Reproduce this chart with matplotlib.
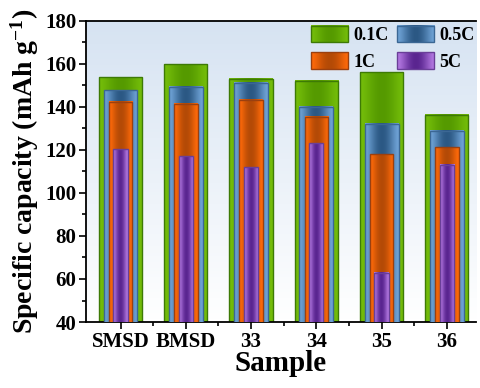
import numpy as np
import matplotlib.pyplot as plt
from matplotlib.colors import to_rgb
from matplotlib.patches import Rectangle
from matplotlib.legend_handler import HandlerBase
from matplotlib.image import BboxImage
from matplotlib.transforms import Bbox, TransformedBbox
from matplotlib.ticker import MultipleLocator

# capacity data (mAh g-1)
samples = ['SMSD', 'BMSD', '33', '34', '35', '36']
rates = ['0.1C', '0.5C', '1C', '5C']
cap_01c = [153.7, 159.8, 153.0, 152.0, 156.0, 136.2]
cap_05c = [147.7, 149.3, 151.0, 140.0, 132.0, 128.8]
cap_1c = [142.4, 141.3, 143.2, 135.2, 118.0, 121.2]
cap_5c = [120.3, 117.0, 111.8, 123.0, 63.0, 113.0]

# width, edge colour of gradient, centre colour of gradient, outline colour
styles = [
    (0.66, '#74bd0a', '#559a00', '#3d7a05'),
    (0.52, '#6fa3d6', '#2b5884', '#3b6794'),
    (0.36, '#ff6a0a', '#b44a06', '#9a4010'),
    (0.22, '#b479e2', '#5a2590', '#6a3f98'),
]

plt.rcParams['font.family'] = 'Liberation Serif'
plt.rcParams['font.weight'] = 'bold'
plt.rcParams['mathtext.fontset'] = 'custom'
plt.rcParams['mathtext.rm'] = 'Liberation Serif:bold'
plt.rcParams['mathtext.default'] = 'rm'


def gradient(edge, centre, n=64):
    t = np.linspace(0, 1, n)
    w = np.sin(np.pi * t) ** 1.5
    e = np.array(to_rgb(edge))
    c = np.array(to_rgb(centre))
    rgb = e[None, :] * (1 - w[:, None]) + c[None, :] * w[:, None]
    return rgb[None, :, :]


class HandlerGradient(HandlerBase):
    def __init__(self, img, ec):
        super().__init__()
        self.img = img
        self.ec = ec

    def create_artists(self, legend, orig_handle, xdescent, ydescent,
                       width, height, fontsize, trans):
        bb = Bbox.from_bounds(-xdescent, -ydescent, width, height)
        im = BboxImage(TransformedBbox(bb, trans), interpolation='bilinear')
        im.set_data(self.img)
        rect = Rectangle((-xdescent, -ydescent), width, height,
                         facecolor='none', edgecolor=self.ec, lw=1.0,
                         transform=trans)
        return [im, rect]


fig = plt.figure(figsize=(4.8, 3.88), dpi=100)
ax = fig.add_axes([0.179, 0.170, 0.813, 0.777])

# background gradient
bg = np.linspace(0, 1, 100)[:, None]
top = np.array(to_rgb('#d6e3f2'))
bot = np.array([1.0, 1.0, 1.0])
bg_img = (top[None, None, :] * (1 - bg[:, :, None]) + bot[None, None, :] * bg[:, :, None])
ax.imshow(bg_img, extent=[0, 1, 0, 1], transform=ax.transAxes,
          aspect='auto', zorder=0)

x = np.arange(len(samples))
series = [cap_01c, cap_05c, cap_1c, cap_5c]
handles = []
hmap = {}
for i, (vals, (w, ce, cc, ec)) in enumerate(zip(series, styles)):
    img = gradient(ce, cc)
    bars = ax.bar(x, vals, width=w, facecolor='none', edgecolor=ec,
                  lw=1.0, zorder=2 + i + 0.5)
    for b in bars:
        ax.imshow(img, extent=[b.get_x(), b.get_x() + b.get_width(),
                               0, b.get_height()],
                  aspect='auto', interpolation='bilinear', zorder=2 + i)
    h = Rectangle((0, 0), 1, 1, label=rates[i])
    handles.append(h)
    hmap[h] = HandlerGradient(img, ec)

ax.set_xlim(-0.53, 5.45)
ax.set_ylim(40, 180)
ax.set_xticks(x)
ax.set_xticklabels(samples)
ax.set_xticks(x[:-1] + 0.5, minor=True)
ax.yaxis.set_major_locator(MultipleLocator(20))
ax.yaxis.set_minor_locator(MultipleLocator(10))
ax.tick_params(axis='both', which='major', direction='out', length=5,
               width=1.2, labelsize=15, pad=2)
ax.tick_params(axis='both', which='minor', direction='out', length=3,
               width=1.2)
ax.spines['right'].set_visible(False)
for s in ['left', 'bottom', 'top']:
    ax.spines[s].set_linewidth(1.3)

ax.set_xlabel('Sample', fontsize=21, fontweight='bold', labelpad=-1)
ax.set_ylabel('Specific capacity (mAh g$^{-1}$)', fontsize=20,
              fontweight='bold', labelpad=3)

# legend order as in the picture: 0.1C, 0.5C on top row; 1C, 5C below
order = [handles[0], handles[2], handles[1], handles[3]]
ax.legend(handles=order, handler_map=hmap, ncol=2, loc='upper right',
          bbox_to_anchor=(1.01, 1.0),
          frameon=False, fontsize=13, handlelength=2.05, handleheight=1.0,
          handletextpad=0.3, columnspacing=0.45, labelspacing=0.45,
          borderaxespad=0.0, borderpad=0.3)

fig.savefig('out.png', dpi=100)
